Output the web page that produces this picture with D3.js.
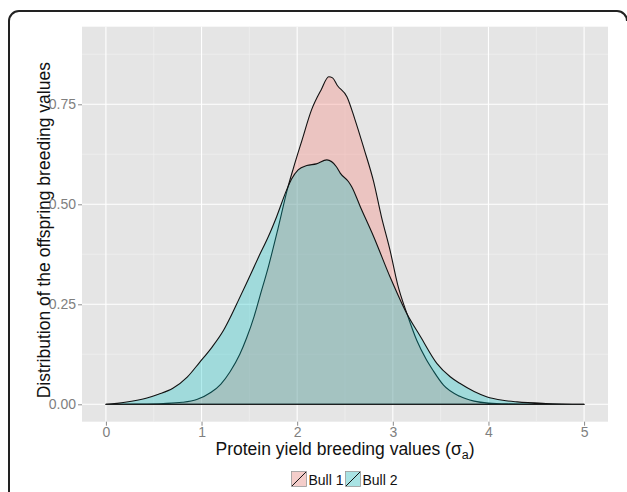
<!DOCTYPE html>
<html>
<head>
<meta charset="utf-8">
<script src="https://cdn.jsdelivr.net/npm/d3@7"></script>
<style>
    body { margin: 0; background: #ffffff; }
    svg text { font-family: "Liberation Sans", Arial, sans-serif; }
</style>
</head>
<body>
<svg id="chart" width="627" height="492"></svg>
<script>
// density, one array per series
var bull1X = [0, 0.3, 0.6, 0.8, 0.95, 1.1, 1.2, 1.3, 1.4, 1.47, 1.55, 1.61, 1.7, 1.8, 1.9, 1.96, 2.05, 2.15, 2.25, 2.33, 2.37, 2.42, 2.52, 2.6, 2.7, 2.8, 2.88, 2.97, 3.05, 3.15, 3.25, 3.35, 3.42, 3.53, 3.7, 3.85, 4.0, 4.2, 4.5, 5.0];
var bull1Y = [0, 0.0005, 0.002, 0.005, 0.012, 0.03, 0.05, 0.082, 0.125, 0.165, 0.22, 0.27, 0.345, 0.44, 0.54, 0.59, 0.66, 0.736, 0.786, 0.819, 0.816, 0.797, 0.769, 0.715, 0.638, 0.556, 0.47, 0.386, 0.3, 0.225, 0.16, 0.112, 0.085, 0.048, 0.02, 0.008, 0.003, 0.001, 0.0003, 0];

var bull2X = [0, 0.2, 0.42, 0.55, 0.7, 0.85, 0.98, 1.1, 1.23, 1.3, 1.37, 1.47, 1.6, 1.7, 1.785, 1.89, 1.94, 2.01, 2.1, 2.2, 2.31, 2.41, 2.45, 2.535, 2.57, 2.66, 2.8, 2.97, 3.15, 3.29, 3.46, 3.6, 3.7, 3.85, 3.98, 4.15, 4.3, 4.6, 5.0];
var bull2Y = [0, 0.005, 0.015, 0.025, 0.04, 0.068, 0.105, 0.14, 0.185, 0.217, 0.252, 0.3025, 0.37, 0.42, 0.469, 0.536, 0.5625, 0.586, 0.597, 0.601, 0.611, 0.594, 0.578, 0.557, 0.544, 0.494, 0.419, 0.319, 0.225, 0.169, 0.1025, 0.069, 0.0525, 0.032, 0.019, 0.01, 0.006, 0.002, 0];

var seriesNames = ["Bull 1", "Bull 2"];
var seriesColors = ["#F8766D", "#00BFC4"];

var xTicks = [0, 1, 2, 3, 4, 5];
var xMinor = [0.5, 1.5, 2.5, 3.5, 4.5];
var yTicks = [0, 0.25, 0.5, 0.75];
var yMinor = [0.125, 0.375, 0.625, 0.875];

var yTitle = "Distribution of the offspring breeding values";

function drawChart() {
    var svg = d3.select("#chart");

    // rounded frame round the figure
    svg.append("path")
        .attr("d", "M9,492 V21 A10,10 0 0 1 19,11 H617 A10,10 0 0 1 627,21")
        .attr("fill", "none")
        .attr("stroke", "#222")
        .attr("stroke-width", 2);

    var panel = {left: 82, right: 608, top: 26.7, bottom: 421.7};

    var x = d3.scaleLinear().domain([-0.25, 5.25]).range([panel.left, panel.right]);
    var y = d3.scaleLinear().domain([-0.0435, 0.944]).range([panel.bottom, panel.top]);

    svg.append("rect")
        .attr("x", panel.left)
        .attr("y", panel.top)
        .attr("width", panel.right - panel.left)
        .attr("height", panel.bottom - panel.top)
        .attr("fill", "#E5E5E5");

    var grid = svg.append("g");
    grid.selectAll("line.minor-x").data(xMinor).enter().append("line")
        .attr("x1", function (d) { return x(d); }).attr("x2", function (d) { return x(d); })
        .attr("y1", panel.top).attr("y2", panel.bottom)
        .attr("stroke", "#F2F2F2").attr("stroke-width", 0.6);
    grid.selectAll("line.minor-y").data(yMinor).enter().append("line")
        .attr("y1", function (d) { return y(d); }).attr("y2", function (d) { return y(d); })
        .attr("x1", panel.left).attr("x2", panel.right)
        .attr("stroke", "#F2F2F2").attr("stroke-width", 0.6);
    grid.selectAll("line.major-x").data(xTicks).enter().append("line")
        .attr("x1", function (d) { return x(d); }).attr("x2", function (d) { return x(d); })
        .attr("y1", panel.top).attr("y2", panel.bottom)
        .attr("stroke", "#FFFFFF").attr("stroke-width", 1.1);
    grid.selectAll("line.major-y").data(yTicks).enter().append("line")
        .attr("y1", function (d) { return y(d); }).attr("y2", function (d) { return y(d); })
        .attr("x1", panel.left).attr("x2", panel.right)
        .attr("stroke", "#FFFFFF").attr("stroke-width", 1.1);

    var area = d3.area()
        .x(function (d) { return x(d[0]); })
        .y0(y(0))
        .y1(function (d) { return y(d[1]); })
        .curve(d3.curveMonotoneX);

    var series = [d3.zip(bull1X, bull1Y), d3.zip(bull2X, bull2Y)];
    series.forEach(function (pts, i) {
        svg.append("path")
            .datum(pts)
            .attr("d", area)
            .attr("fill", seriesColors[i])
            .attr("fill-opacity", 0.3)
            .attr("stroke", "#111")
            .attr("stroke-width", 1.1)
            .attr("stroke-linejoin", "round");
    });

    // axes
    var xAxis = svg.append("g")
        .attr("transform", "translate(0," + panel.bottom + ")")
        .call(d3.axisBottom(x).tickValues(xTicks).tickFormat(d3.format("d")).tickSize(4).tickPadding(1));
    var yAxis = svg.append("g")
        .attr("transform", "translate(" + panel.left + ",0)")
        .call(d3.axisLeft(y).tickValues(yTicks).tickFormat(d3.format(".2f")).tickSize(4).tickPadding(2));
    [xAxis, yAxis].forEach(function (a) {
        a.select(".domain").remove();
        a.selectAll(".tick line").attr("stroke", "#8a8a8a");
        a.selectAll(".tick text")
            .attr("fill", "#7F7F7F")
            .style("font-size", "14px")
            .style("font-family", "'Liberation Sans', Arial, sans-serif");
    });

    // axis titles
    var xt = svg.append("text")
        .attr("x", (panel.left + panel.right) / 2)
        .attr("y", 455)
        .attr("text-anchor", "middle")
        .attr("fill", "#111")
        .style("font-size", "17.5px");
    xt.append("tspan").text("Protein yield breeding values (\u03C3");
    xt.append("tspan").attr("dy", 4).style("font-size", "12.5px").text("a");
    xt.append("tspan").attr("dy", -4).text(")");

    svg.append("text")
        .attr("transform", "translate(50," + ((panel.top + panel.bottom) / 2 + 6) + ") rotate(-90)")
        .attr("text-anchor", "middle")
        .attr("fill", "#111")
        .style("font-size", "17.5px")
        .text(yTitle);

    // legend
    var legend = svg.append("g");
    var cx = 0;
    seriesNames.forEach(function (name, i) {
        var item = legend.append("g").attr("transform", "translate(" + cx + ",0)");
        item.append("rect")
            .attr("x", 0).attr("y", 0).attr("width", 16).attr("height", 16)
            .attr("fill", "#F2F2F2")
            .attr("stroke", "#ffffff");
        item.append("rect")
            .attr("x", 0.5).attr("y", 0.5).attr("width", 15).attr("height", 15)
            .attr("fill", seriesColors[i])
            .attr("fill-opacity", 0.3)
            .attr("stroke", "#9a9a9a")
            .attr("stroke-width", 0.8);
        item.append("line")
            .attr("x1", 1).attr("y1", 15).attr("x2", 15).attr("y2", 1)
            .attr("stroke", "#111").attr("stroke-width", 1);
        var t = item.append("text")
            .attr("x", 17.5).attr("y", 13.5)
            .attr("fill", "#111")
            .style("font-size", "14px")
            .text(name);
        cx += 17.5 + t.node().getComputedTextLength() + 1.5;
    });
    legend.attr("transform", "translate(" + ((panel.left + panel.right) / 2 - cx / 2) + ",471)");
}

drawChart();
</script>
</body>
</html>
